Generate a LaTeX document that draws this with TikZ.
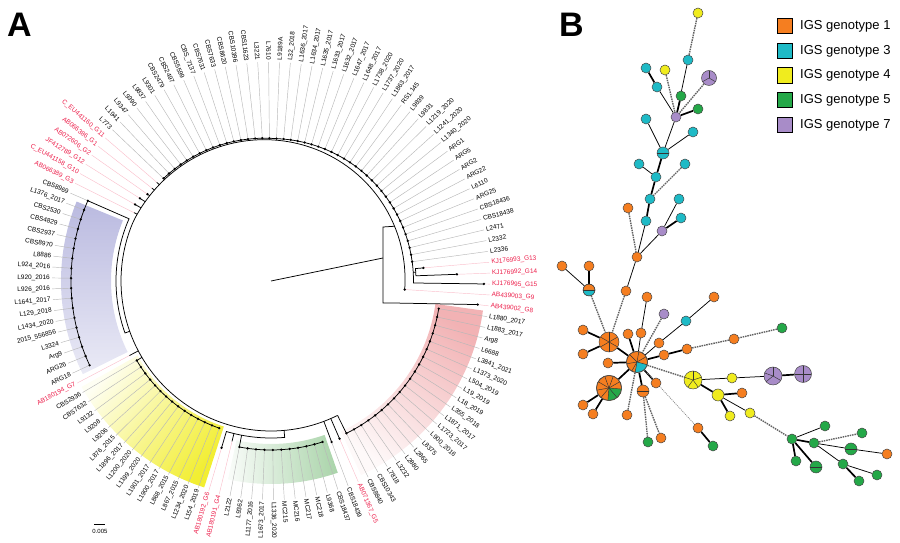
\documentclass[tikz,border=0pt]{standalone}
\usepackage{fontspec}
\setmainfont{Liberation Sans}
\definecolor{cOr}{RGB}{245,126,32}
\definecolor{cCy}{RGB}{30,186,198}
\definecolor{cYe}{RGB}{240,236,30}
\definecolor{cGr}{RGB}{36,168,72}
\definecolor{cPu}{RGB}{168,140,200}
\definecolor{redlab}{RGB}{236,30,74}
\definecolor{ndb}{RGB}{70,70,70}
\definecolor{shB}{RGB}{186,186,224}
\definecolor{shY}{RGB}{242,238,50}
\definecolor{shG}{RGB}{170,212,170}
\definecolor{shP}{RGB}{242,178,180}
\pgfdeclarelayer{bg}
\pgfsetlayers{bg,main}
\newcommand\rbb[1]{(134+16*pow(min(1,(#1+3.66)/160),1.5))}
\newcommand\rtop{max(142.5,135.5+16*pow(min(1,(142.86-(\i-1)*2.857143)/160),1.5))}
\def\tiplist{1/C\_EU441160\_G11/redlab/151/0,
2/L773/black/\rtop/1, 3/L1941/black/\rtop/1, 4/L9347/black/\rtop/1, 5/L9390/black/\rtop/1,
6/L9837/black/\rtop/1, 7/L9301/black/\rtop/1, 8/CBS2479/black/\rtop/1, 9/CBS2497/black/\rtop/1,
10/CBS5599/black/\rtop/1, 11/CBS\_7137/black/\rtop/1, 12/CBS7631/black/\rtop/1, 13/CBS7633/black/\rtop/1,
14/CBS8620/black/\rtop/1, 15/CBS10396/black/\rtop/1, 16/CBS11623/black/\rtop/1, 17/L3221/black/\rtop/1,
18/L7610/black/\rtop/1, 19/L9189A/black/\rtop/1, 20/L32\_2018/black/\rtop/1, 21/L1636\_2017/black/\rtop/1,
22/L1634\_2017/black/\rtop/1, 23/L1635\_2017/black/\rtop/1, 24/L1633\_2017/black/\rtop/1, 25/L1632\_2017/black/\rtop/1,
26/L1647\_2017/black/\rtop/1, 27/L1648\_2017/black/\rtop/1, 28/L1738\_2020/black/\rtop/1, 29/L1737\_2020/black/\rtop/1,
30/L1863\_2017/black/\rtop/1, 31/RS1.145/black/\rtop/1, 32/L9839/black/\rtop/1, 33/L9831/black/\rtop/1,
34/L1219\_2020/black/\rtop/1, 35/L1241\_2020/black/\rtop/1, 36/L1340\_2020/black/\rtop/1, 37/ARG1/black/\rtop/1,
38/ARG5/black/\rtop/1, 39/ARG2/black/\rtop/1, 40/ARG22/black/\rtop/1, 41/L6110/black/\rtop/1,
42/ARG25/black/\rtop/1, 43/CBS18436/black/\rtop/1, 44/CBS18438/black/\rtop/1, 45/L2471/black/\rtop/1,
46/L2332/black/\rtop/1, 47/L2336/black/\rtop/1,
48/KJ176993\_G13/redlab/153/1, 49/KJ176992\_G14/redlab/186/1, 50/KJ176995\_G15/redlab/213/1,
51/AB439003\_G9/redlab/134/1, 52/AB439002\_G8/redlab/208/1,
53/L1880\_2017/black/170/1, 54/L1883\_2017/black/170/1, 55/Arg8/black/170/1, 56/L6688/black/170/1,
57/L3841\_2021/black/170/1, 58/L1373\_2020/black/170/1, 59/L504\_2019/black/170/1, 60/L19\_2019/black/170/1,
61/L18\_2019/black/170/1, 62/L355\_2018/black/170/1, 63/L1871\_2017/black/170/1, 64/L1723\_2017/black/170/1,
65/L900\_2016/black/170/1, 66/L8375/black/170/1, 67/L2865/black/170/1, 68/L2880/black/170/1,
69/L3232/black/170/1, 70/L7818/black/170/1, 71/CBS10343/black/170/1, 72/CBS8840/black/170/1,
73/AB071367\_G5/redlab/172/1, 74/CBS18439/black/172/1,
75/CBS18437/black/169/1, 76/L9368/black/169/1, 77/MC218/black/169/1, 78/MC217/black/169/1,
79/MC216/black/169/1, 80/MC215/black/169/1, 81/L1336\_2020/black/169/1, 82/L1673\_2017/black/169/1,
83/L1177\_2016/black/169/1, 84/L9362/black/169/1, 85/L2122/black/169/1,
86/AB180191\_G4/redlab/165/0, 87/AB180192\_G6/redlab/174/1,
88/L154\_2019/black/156/1, 89/L1234\_2020/black/156/1, 90/L867\_2015/black/156/1, 91/L868\_2015/black/156/1,
92/L1900\_2017/black/156/1, 93/L1901\_2017/black/156/1, 94/L1199\_2020/black/156/1, 95/L1200\_2020/black/156/1,
96/L1896\_2017/black/156/1, 97/L876\_2015/black/156/1, 98/L9206/black/156/1, 99/L9208/black/156/1,
100/L9132/black/156/1, 101/CBS7632/black/156/1, 102/CBS2936/black/156/1,
103/AB180194\_G7/redlab/160/0,
104/ARG18/black/200/1, 105/ARG26/black/200/1, 106/Arg9/black/200/1, 107/L3324/black/200/1,
108/2015\_556856/black/200/1, 109/L1434\_2020/black/200/1, 110/L129\_2018/black/200/1, 111/L1641\_2017/black/200/1,
112/L926\_2016/black/200/1, 113/L920\_2016/black/200/1, 114/L924\_2016/black/200/1, 115/L8886/black/200/1,
116/CBS8970/black/200/1, 117/CBS2937/black/200/1, 118/CBS4829/black/200/1, 119/CBS2530/black/200/1,
120/L1376\_2017/black/200/1, 121/CBS8969/black/200/1,
122/AB066389\_G3/redlab/153/0, 123/C\_EU441158\_G10/redlab/156/1, 124/JF412789\_G12/redlab/155/1,
125/AB072606\_G2/redlab/151/1, 126/AB066386\_G1/redlab/151/0}
\begin{document}
\begin{tikzpicture}[x=1pt,y=1pt,
  tr/.style={line width=0.75, black},
  nd/.style={circle, draw=ndb, line width=0.5, minimum size=10, inner sep=0},
  no/.style={nd, fill=cOr}, nc/.style={nd, fill=cCy}, ny/.style={nd, fill=cYe},
  ng/.style={nd, fill=cGr}, np/.style={nd, fill=cPu},
  pl/.style={line width=0.45, black!80},
  thn/.style={line width=0.75, black},
  thk/.style={line width=1.7, black},
  dsh/.style={line width=1.4, black!62, dash pattern=on 1.5pt off 0.9pt},
  dsl/.style={line width=0.7, black!50, dash pattern=on 1pt off 1pt},
  lgbox/.style={draw=black, line width=1.1, minimum size=15.5, inner sep=0},
  lgtxt/.style={anchor=west, inner sep=0, font=\fontsize{13}{15}\selectfont}]
\useasboundingbox (0,0) rectangle (900,543);
\node[font=\fontsize{34}{34}\selectfont\bfseries, anchor=north west, inner sep=0] (lA) at (7,530) {A};
\node[font=\fontsize{34}{34}\selectfont\bfseries, anchor=north west, inner sep=0] (lB) at (559,530) {B};

% ---------------- tree ----------------
\begin{scope}[shift={(271,262)}]
\shade[top color=shB, bottom color=shB!30!white, shading angle=0]
  (157.77:160) arc[start angle=157.77, end angle=206.34, radius=160] -- (206.34:210) arc[start angle=206.34, end angle=157.77, radius=210] -- cycle;
\shade[top color=shY, bottom color=shY!6!white, shading angle=-129]
  (209.2:153) arc[start angle=209.2, end angle=252.06, radius=153] -- (252.06:217) arc[start angle=252.06, end angle=209.2, radius=217] -- cycle;
\shade[top color=shG, bottom color=shG!8!white, shading angle=-86.5]
  (-102.23:163) arc[start angle=-102.23, end angle=-70.8, radius=163] -- (-70.8:203) arc[start angle=-70.8, end angle=-102.23, radius=203] -- cycle;
\shade[top color=shP, bottom color=shP!8!white, shading angle=-36.5]
  (-65.1:166) arc[start angle=-65.1, end angle=-7.94, radius=166] -- (-7.94:214) arc[start angle=-7.94, end angle=-65.1, radius=214] -- cycle;

\foreach \i/\nm/\c/\r/\d in \tiplist {
  \pgfmathsetmacro\ang{139.2-(\i-1)*2.857143}
  \pgfmathsetmacro\rr{\r}
  \draw[draw=\c!28, line width=0.45] (\ang:\rr) -- (\ang:219);
}
% backbone (slowly widening spiral) and root
\draw[tr] plot[domain=-3.66:296.34, samples=150] (\x:{\rbb{\x}});
\draw[tr] (0,0) -- (112,23);
\draw[tr] (23.9:{\rbb{23.9}}) -- (112,54) -- (112,-22) -- (122,-22) -- (-6.51:208);
% top comb
\foreach \i in {2,...,46} {
  \pgfmathsetmacro\aA{139.2-(\i-1)*2.857143}
  \pgfmathsetmacro\aB{\aA-2.857143}
  \pgfmathsetmacro\rA{\rtop}
  \pgfmathsetmacro\rB{max(142.5,135.5+16*pow(min(1,(142.86-\i*2.857143)/160),1.5))}
  \draw[tr] (\aA:\rA) -- (\aB:\rB);
}
\draw[tr] (136.34:{\rbb{136.34}}) -- (136.34:148.5);
\draw[tr] (7.77:142.5) arc[start angle=7.77, end angle=-0.8, radius=142.5] -- (-0.8:213);
\draw[tr] (3.5:142.5) -- (3.5:145);
\draw[tr] (4.91:153) -- (4.91:145) arc[start angle=4.91, end angle=2.06, radius=145] -- (2.06:186);
% red tips near G1
\foreach \a/\r in {153.49/153, 150.63/156, 147.77/155, 144.91/151, 142.06/151, 139.2/151}
  \draw[tr] (\a:{\rbb{\a}}) -- (\a:\r);
% blue clade
\draw[tr] (199.6:150) -- (199.6:155) arc[start angle=199.6, end angle=156.34, radius=155] -- (156.34:200) arc[start angle=156.34, end angle=204.91, radius=200];
\draw[tr] (207.77:150) -- (207.77:160);
% yellow clade
\draw[tr] (210.63:150) -- (210.63:156) arc[start angle=210.63, end angle=250.63, radius=156];
% G4, G6 and green clade
\draw[tr] (-85:150) -- (-85:157) arc[start angle=-85, end angle=-106.51, radius=157] -- (-106.51:174);
\draw[tr] (-103.66:157) -- (-103.66:165);
\draw[tr] (-100.8:157) -- (-100.8:169) arc[start angle=-100.8, end angle=-72.23, radius=169];
\draw[tr] (-69.37:150) -- (-69.37:172);
\draw[tr] (-66.51:150) -- (-66.51:172);
% pink clade
\draw[tr] (-63.66:150) -- (-63.66:170) arc[start angle=-63.66, end angle=-9.37, radius=170];

\foreach \i/\nm/\c/\r/\d in \tiplist {
  \pgfmathsetmacro\ang{139.2-(\i-1)*2.857143}
  \pgfmathsetmacro\rr{\r}
  \pgfmathsetmacro\ca{cos(\ang)}
  \ifnum\d=1 \fill (\ang:\rr) circle (1.3); \fi
  \ifdim \ca pt<0pt
    \pgfmathsetmacro\rot{\ang+180}
    \node[text=\c, font=\fontsize{6.5}{7}\selectfont, inner sep=0, anchor=east, rotate=\rot] (lab\i) at (\ang:221) {\nm};
  \else
    \node[text=\c, font=\fontsize{6.5}{7}\selectfont, inner sep=0, anchor=west, rotate=\ang] (lab\i) at (\ang:221) {\nm};
  \fi
}
\end{scope}
\draw[line width=0.6] (94,19) -- (105,19);
\node[font=\fontsize{6}{6}\selectfont, inner sep=0] (sb) at (100,12) {0.005};

% ---------------- network ----------------
\begin{scope}[shift={(0,543)}, yscale=-1]
\node[ny] (Y1) at (698,13) {};
\node[nc] (C1) at (688,60) {};
\node[nc] (C2) at (646,68) {};
\node[ny] (Y2) at (665,70) {};
\node[np, minimum size=15] (P1) at (709,78) {};
\node[nc] (C3) at (657,87) {};
\node[ng] (G1) at (681,96) {};
\node[ng] (G2) at (698,109) {};
\node[np] (P2) at (676,117) {};
\node[nc] (C4) at (646,119) {};
\node[nc] (C5) at (693,132) {};
\node[nc, minimum size=12] (C6) at (663,153) {};
\node[nc] (C7) at (639,164) {};
\node[nc] (C8) at (685,164) {};
\node[nc] (C9) at (656,177) {};
\node[nc] (C10) at (650,199) {};
\node[no] (O1) at (628,208) {};
\node[nc] (C11) at (679,199) {};
\node[nc] (C12) at (646,221) {};
\node[nc] (C13) at (681,218) {};
\node[np] (P3) at (662,231) {};
\node[no] (O2) at (637,257) {};
\node[no] (O3) at (589,266) {};
\node[no] (O4) at (562,266) {};
\node[no, minimum size=12] (OC1) at (589,290) {};
\node[no] (O5) at (626,291) {};
\node[no] (O6) at (647,297) {};
\node[no] (O7) at (714,297) {};
\node[np] (P4) at (664,314) {};
\node[nc] (C14) at (686,321) {};
\node[ng] (G3) at (782,328) {};
\node[no] (O8) at (583,330) {};
\node[no, minimum size=20] (B1) at (609,342) {};
\node[no] (O9) at (628,334) {};
\node[no] (O10) at (641,333) {};
\node[no] (O11) at (659,343) {};
\node[no] (O13) at (734,339) {};
\node[no] (O12) at (687,349) {};
\node[no] (O14) at (583,354) {};
\node[no] (O15) at (608,363) {};
\node[no] (O16) at (664,355) {};
\node[no, minimum size=21.4] (H) at (637,362) {};
\node[ny, minimum size=18] (Y3) at (693,380) {};
\node[ny] (Y4) at (732,378) {};
\node[np, minimum size=18] (P5) at (773,376) {};
\node[np, minimum size=17] (P6) at (803,374) {};
\node[no, minimum size=25.4] (B2) at (609,388) {};
\node[no, minimum size=12] (O17) at (643,391) {};
\node[no] (O18) at (656,383) {};
\node[ny, minimum size=12] (Y5) at (718,395) {};
\node[no] (O19) at (742,393) {};
\node[no] (O20) at (583,405) {};
\node[no] (O21) at (593,414) {};
\node[no] (O22) at (627,415) {};
\node[ny] (Y6) at (730,416) {};
\node[ny] (Y7) at (750,413) {};
\node[no] (O23) at (698,428) {};
\node[ng] (G4) at (825,426) {};
\node[ng] (G5) at (862,433) {};
\node[ng] (G6) at (792,439) {};
\node[ng] (G7) at (814,443) {};
\node[ng, minimum size=12] (G8) at (851,449) {};
\node[no] (O24) at (887,454) {};
\node[ng] (G9) at (648,442) {};
\node[no] (O25) at (661,438) {};
\node[ng] (G10) at (713,446) {};
\node[ng] (G11) at (796,461) {};
\node[ng, minimum size=12] (G12) at (816,467) {};
\node[ng] (G13) at (843,464) {};
\node[ng] (G14) at (877,475) {};
\node[ng] (G15) at (859,481) {};
% pie details
\fill[cCy] (H.center) -- ++(15:10.4) arc[start angle=15, end angle=100, radius=10.4] -- cycle;
\foreach \a in {15,100,-30,-80,-135,-190,-240} \draw[pl] (H.center) -- ++(\a:10.4);
\draw[ndb, line width=0.5] (H.center) circle (10.45);
\foreach \a in {30,90,150,210,270,330} \draw[pl] (B1.center) -- ++(\a:9.8);
\fill[cGr] (B2.center) -- ++(5:12.4) arc[start angle=5, end angle=95, radius=12.4] -- cycle;
\foreach \a in {5,50,95,-30,-70,-110,-150,-190,-230} \draw[pl] (B2.center) -- ++(\a:12.4);
\draw[ndb, line width=0.5] (B2.center) circle (12.45);
\foreach \a in {-90,-162,-234,-306,-18} \draw[pl] (Y3.center) -- ++(\a:8.8);
\foreach \a in {-90,-210,-330} \draw[pl] (P1.center) -- ++(\a:7.3);
\foreach \a in {-90,-160,-220,-330} \draw[pl] (P5.center) -- ++(\a:8.8);
\foreach \a in {0,90,180,270} \draw[pl] (P6.center) -- ++(\a:8.3);
\fill[cCy] (OC1.center) ++(5.8,0) arc[start angle=0, end angle=180, radius=5.8] -- cycle;
\draw[ndb, line width=0.5] (OC1.center) circle (5.85);
\foreach \n in {C6,O17,G8,G12,OC1} \draw[pl] (\n.west) -- (\n.east);
\begin{pgfonlayer}{bg}
\draw[dsh] (Y1) -- (C1);
\draw[thn] (C1) -- (P2);
\draw[thk] (C2) -- (C3);
\draw[thn] (C3) -- (P2);
\draw[dsh] (Y2) -- (P2);
\draw[dsh] (P1) -- (P2);
\draw[thk] (G1) -- (P2);
\draw[thk] (G2) -- (P2);
\draw[thn] (P2) -- (C6);
\draw[thn] (C4) -- (C6);
\draw[thn] (C5) -- (C6);
\draw[thk] (C6) -- (C9);
\draw[thn] (C7) -- (C9);
\draw[thk] (C9) -- (C10);
\draw[dsh] (C8) -- (C10);
\draw[thk] (C10) -- (C12);
\draw[thn] (C12) -- (O2);
\draw[dsh] (O1) -- (O2);
\draw[thn] (C11) -- (P3);
\draw[thk] (C13) -- (P3);
\draw[thn] (P3) -- (O2);
\draw[thn] (O2) -- (O5);
\draw[dsh] (O5) -- (B1);
\draw[thn] (O4) -- (OC1);
\draw[thk] (O3) -- (OC1);
\draw[dsh] (OC1) -- (B1);
\draw[thk] (O8) -- (B1);
\draw[thk] (O14) -- (B1);
\draw[thk] (B1) -- (H);
\draw[thk] (O15) -- (H);
\draw[thk] (O9) -- (H);
\draw[thn] (O6) -- (O10);
\draw[thn] (O10) -- (H);
\draw[dsh] (P4) -- (H);
\draw[thn] (O7) -- (C14);
\draw[thn] (C14) -- (O11);
\draw[thn] (O11) -- (H);
\draw[dsh] (G3) -- (O13);
\draw[dsh] (O13) -- (O12);
\draw[thk] (O12) -- (O16);
\draw[thk] (O16) -- (H);
\draw[dsh] (H) -- (Y3);
\draw[thk] (H) -- (B2);
\draw[thk] (B2) -- (O20);
\draw[thk] (B2) -- (O21);
\draw[dsh] (H) -- (O22);
\draw[thk] (H) -- (O17);
\draw[dsh] (O17) -- (G9);
\draw[dsh] (O17) -- (O25);
\draw[thk] (H) -- (O18);
\draw[dsl] (H) -- (O23);
\draw[thk] (O23) -- (G10);
\draw[thn] (Y3) -- (Y4);
\draw[thn] (Y4) -- (P5);
\draw[thk] (P5) -- (P6);
\draw[thk] (Y3) -- (Y5);
\draw[thk] (Y5) -- (O19);
\draw[thk] (Y5) -- (Y6);
\draw[thn] (Y5) -- (Y7);
\draw[dsh] (Y7) -- (G6);
\draw[thn] (G6) -- (G4);
\draw[thk] (G6) -- (G7);
\draw[thk] (G6) -- (G11);
\draw[thk] (G6) -- (G12);
\draw[dsh] (G7) -- (G5);
\draw[thn] (G7) -- (G8);
\draw[thn] (G8) -- (O24);
\draw[thn] (G7) -- (G13);
\draw[thn] (G13) -- (G14);
\draw[thk] (G13) -- (G15);
\end{pgfonlayer}
% legend
\node[lgbox, fill=cOr] (Lg1) at (785,26) {};
\node[lgbox, fill=cCy] (Lg2) at (785,51) {};
\node[lgbox, fill=cYe] (Lg3) at (785,75.5) {};
\node[lgbox, fill=cGr] (Lg4) at (785,100) {};
\node[lgbox, fill=cPu] (Lg5) at (785,125) {};
\node[lgtxt] (Lt1) at (800,26) {IGS genotype 1};
\node[lgtxt] (Lt2) at (800,51) {IGS genotype 3};
\node[lgtxt] (Lt3) at (800,75.5) {IGS genotype 4};
\node[lgtxt] (Lt4) at (800,100) {IGS genotype 5};
\node[lgtxt] (Lt5) at (800,125) {IGS genotype 7};
\end{scope}
\end{tikzpicture}
\end{document}
